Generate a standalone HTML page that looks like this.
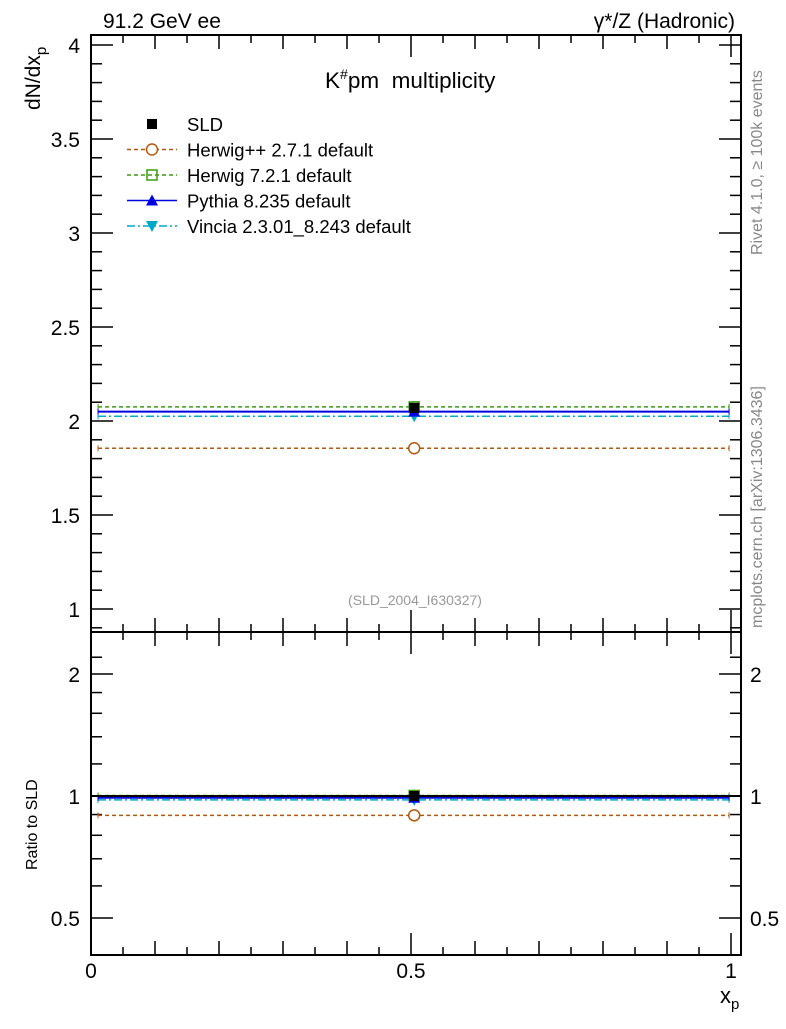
<!DOCTYPE html>
<html><head><meta charset="utf-8"><style>
body{margin:0;background:#fff;}
svg text{font-family:"Liberation Sans",sans-serif;}
</style></head><body>
<svg id="c" width="786" height="1024" xmlns="http://www.w3.org/2000/svg"></svg>
<script>
const seriesNames=["SLD","Herwig++ 2.7.1 default","Herwig 7.2.1 default","Pythia 8.235 default","Vincia 2.3.01_8.243 default"];
const seriesValues=[2.07,1.855,2.075,2.05,2.025];
const ratioValues=[1.0,0.896,1.003,0.99,0.978];
const binLow=[0.011];
const binHigh=[0.997];
const binCenter=[0.505];
const yTicks=[1,1.5,2,2.5,3,3.5,4];
const yTickLabels=["1","1.5","2","2.5","3","3.5","4"];
const rTicks=[0.5,1,2];
const rTickLabels=["0.5","1","2"];
const xTicks=[0,0.5,1];
const xTickLabels=["0","0.5","1"];

const NS="http://www.w3.org/2000/svg";
const svg=document.getElementById('c');
function mk(t,a,p){const e=document.createElementNS(NS,t);for(const k in a)e.setAttribute(k,a[k]);(p||svg).appendChild(e);return e;}
const L=91,R=741,T=35,M=632,B=955;
const X=v=>91+640*v;
const Y=v=>609-188*(v-1);
const YR=v=>796-122*Math.log2(v);
const colors=["#000","#b05a10","#3a9a10","#0000e0","#00a8c8"];
const dashes=["","4,3","4,3","","8,3,2,3"];

let f1=mk('rect',{x:L,y:T,width:R-L,height:M-T,fill:'none',stroke:'#000','stroke-width':2});

let f2=mk('rect',{x:L,y:M,width:R-L,height:B-M,fill:'none',stroke:'#000','stroke-width':2});


for(let i=0;i<=20;i++){const v=i*0.05,x=X(v);const len=(i%10==0)?22:(i%2==0?14:8);
 for(const [y0,dir] of [[M,-1],[B,-1],[T,1],[M,1]]){
  const l=mk('line',{x1:x,x2:x,y1:y0,y2:y0+dir*len,stroke:'#000','stroke-width':1.5});
  }
}
xTicks.forEach((v,i)=>{const t=mk('text',{x:X(v),y:978,'font-size':21,'text-anchor':'middle'});t.textContent=xTickLabels[i];
 });

for(let v=0.9;v<=4.05;v+=0.1){const vv=Math.round(v*10)/10;const y=Y(vv);if(y<T||y>M)continue;
 const major=Math.abs(vv*2-Math.round(vv*2))<1e-6;const len=major?22:11;
 for(const [x0,d] of [[L,1],[R,-1]]){const l=mk('line',{x1:x0,x2:x0+d*len,y1:y,y2:y,stroke:'#000','stroke-width':1.5});
  }}
yTicks.forEach((v,i)=>{const t=mk('text',{x:80,y:Y(v)+8,'font-size':21,'text-anchor':'end'});t.textContent=yTickLabels[i];
 });

const rmin=[0.4,0.5,0.6,0.7,0.8,0.9,1,1.2,1.4,1.6,1.8,2,2.2];
rmin.forEach(v=>{const y=YR(v);if(y<M||y>B)return;const major=rTicks.includes(v);const len=major?22:11;
 for(const [x0,d] of [[L,1],[R,-1]]){const l=mk('line',{x1:x0,x2:x0+d*len,y1:y,y2:y,stroke:'#000','stroke-width':1.5});
  }});
rTicks.forEach((v,i)=>{
 const t=mk('text',{x:80,y:YR(v)+8,'font-size':21,'text-anchor':'end'});t.textContent=rTickLabels[i];
 
 const t2=mk('text',{x:750,y:YR(v)+8,'font-size':21});t2.textContent=rTickLabels[i];
 });

function marker(i,x,y,g){
 const c=colors[i];let m;
 if(i===0)m=mk('rect',{x:x-5,y:y-5,width:10,height:10,fill:'#000'},g);
 else if(i===1)m=mk('circle',{cx:x,cy:y,r:5.5,fill:'#fff',stroke:c,'stroke-width':1.5},g);
 else if(i===2)m=mk('rect',{x:x-5,y:y-5,width:10,height:10,fill:'none',stroke:c,'stroke-width':1.5},g);
 else if(i===3)m=mk('polygon',{points:`${x-6},${y+5} ${x+6},${y+5} ${x},${y-6}`,fill:c},g);
 else m=mk('polygon',{points:`${x-6},${y-5} ${x+6},${y-5} ${x},${y+6}`,fill:c},g);
 return m;}

const order=[1,2,4,3,0];
order.forEach(i=>{
 const g=mk('g',{});
 for(const [fn,vals] of [[Y,seriesValues],[YR,ratioValues]]){
  const y=fn(vals[i]);
  if(i>0){const l=mk('line',{x1:X(binLow[0]),x2:X(binHigh[0]),y1:y,y2:y,stroke:colors[i],'stroke-width':i===3?2:1.5,'stroke-dasharray':dashes[i]},g);
   
   for(const xx of [X(binLow[0]),X(binHigh[0])]){mk('line',{x1:xx,x2:xx,y1:y-3,y2:y+3,stroke:colors[i],'stroke-width':1},g);}
  } else if(fn===YR){const l=mk('line',{x1:L,x2:R,y1:y,y2:y,stroke:'#000','stroke-width':2},g);
   }
  const m=marker(i,X(binCenter[0]),y,g);
 }});

const lg=mk('g',{});
seriesNames.forEach((n,i)=>{const y=124+25.5*i;
 const e=mk('g',{},lg);
 if(i>0)mk('line',{x1:127,x2:177,y1:y,y2:y,stroke:colors[i],'stroke-width':1.5,'stroke-dasharray':dashes[i]},e);
 marker(i,152,y,e);
 const t=mk('text',{x:187,y:y+7,'font-size':18.5},e);t.textContent=n;});

function txt(s,a,name){const t=mk('text',a);t.innerHTML=s;return t;}
txt('91.2 GeV ee',{x:103,y:28,'font-size':21},'header-left');
txt('γ*/Z (Hadronic)',{x:735,y:28,'font-size':21,'text-anchor':'end'},'header-right');
txt('K<tspan dy="-9" font-size="14">#</tspan><tspan dy="9" xml:space="preserve">pm  multiplicity</tspan>',{x:325,y:88,'font-size':22.5},'plot-title');
txt('(SLD_2004_I630327)',{x:415,y:605,'font-size':14,fill:'#999','text-anchor':'middle'},'analysis-label');
txt('dN/dx<tspan dy="6" font-size="15">p</tspan>',{x:0,y:0,'font-size':21,transform:'translate(40,110) rotate(-90)'},'y-axis-title');
txt('Ratio to SLD',{x:0,y:0,'font-size':16,transform:'translate(37,870) rotate(-90)'},'ratio-axis-title');
txt('x<tspan dy="6" font-size="15">p</tspan>',{x:720,y:1003,'font-size':22},'x-axis-title');
txt('Rivet 4.1.0, ≥ 100k events',{x:0,y:0,'font-size':16,fill:'#888',transform:'translate(762,255) rotate(-90)'},'rivet-label');
txt('mcplots.cern.ch [arXiv:1306.3436]',{x:0,y:0,'font-size':16,fill:'#888',transform:'translate(762,628) rotate(-90)'},'mcplots-label');
</script>
</body></html>
